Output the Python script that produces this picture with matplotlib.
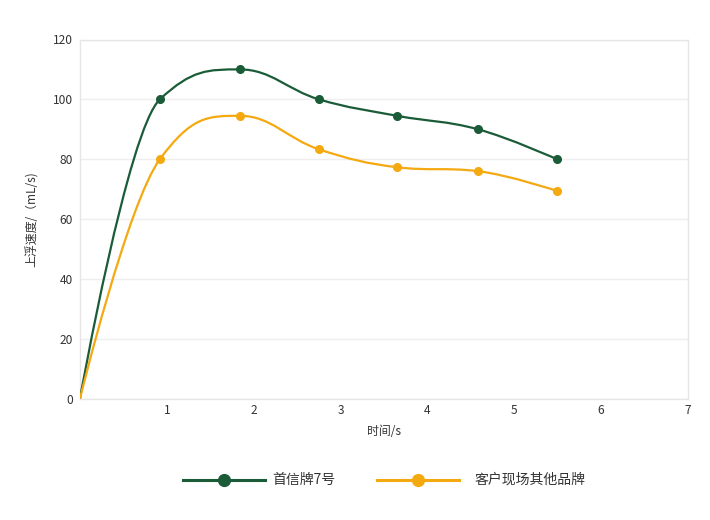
import matplotlib
matplotlib.use('Agg')
import matplotlib.pyplot as plt
from matplotlib.path import Path
from matplotlib.patches import PathPatch
from matplotlib.lines import Line2D
import numpy as np

plt.rcParams['font.family'] = ['Noto Sans CJK SC', 'DejaVu Sans']

# data
time_s = [0, 0.92, 1.84, 2.75, 3.65, 4.58, 5.49]
brand7 = [0, 100, 110, 100, 94.5, 90, 80]
others = [0, 80, 94.5, 83.3, 77.3, 76, 69.4]
series_names = ['首信牌7号', '客户现场其他品牌']
colors = ['#1b5c38', '#f5a911']

x_ticks = [1, 2, 3, 4, 5, 6, 7]
y_ticks = [0, 20, 40, 60, 80, 100, 120]


def spline_path(ax, xs, ys, smoothing=1.5):
    # spline with control points like a typical web chart lib, in pixel space
    tr = ax.transData
    pts = tr.transform(np.column_stack([xs, ys]))
    n = len(pts)
    denom = smoothing + 1
    left = [p.copy() for p in pts]
    right = [p.copy() for p in pts]
    for i in range(1, n - 1):
        lx, ly = pts[i - 1]
        x, y = pts[i]
        nx, ny = pts[i + 1]
        lcx, lcy = (smoothing * x + lx) / denom, (smoothing * y + ly) / denom
        rcx, rcy = (smoothing * x + nx) / denom, (smoothing * y + ny) / denom
        corr = (rcy - lcy) * (rcx - x) / (rcx - lcx) + y - rcy
        lcy += corr
        rcy += corr
        if lcy > ly and lcy > y:
            lcy = max(ly, y)
            rcy = 2 * y - lcy
        elif lcy < ly and lcy < y:
            lcy = min(ly, y)
            rcy = 2 * y - lcy
        if rcy > ny and rcy > y:
            rcy = max(ny, y)
            lcy = 2 * y - rcy
        elif rcy < ny and rcy < y:
            rcy = min(ny, y)
            lcy = 2 * y - rcy
        left[i] = np.array([lcx, lcy])
        right[i] = np.array([rcx, rcy])
    verts = [pts[0]]
    codes = [Path.MOVETO]
    for i in range(1, n):
        verts += [right[i - 1], left[i], pts[i]]
        codes += [Path.CURVE4] * 3
    return Path(tr.inverted().transform(np.array(verts)), codes)


fig = plt.figure(figsize=(7.1, 5.2), dpi=100)
ax = fig.add_axes([80 / 710, 1 - 398.5 / 520, 608 / 710, 359 / 520])
ax.set_xlim(0, 7)
ax.set_ylim(0, 120)
ax.set_xticks(x_ticks)
ax.set_yticks(y_ticks)
ax.tick_params(length=0, labelsize=8.6, labelcolor='#333333')
ax.tick_params(axis='y', pad=5)
ax.tick_params(axis='x', pad=4)
ax.grid(axis='y', color='#eeeeee', linewidth=1)
ax.set_axisbelow(True)
for s in ax.spines.values():
    s.set_color('#e6e6e6')
    s.set_linewidth(1)

fig.canvas.draw()
for ys, c in zip([brand7, others], colors):
    path = spline_path(ax, time_s, ys)
    ax.add_patch(PathPatch(path, facecolor='none', edgecolor=c, lw=1.6, zorder=3))
    ax.plot(time_s[1:], ys[1:], 'o', color=c, markersize=5.5, zorder=4, clip_on=False)

ax.set_xlabel('时间/s', fontsize=8.6, color='#333333', labelpad=6)
ax.set_ylabel('上浮速度/（mL/s)', fontsize=8.6, color='#333333', labelpad=10)

# legend drawn by hand to match spacing
legend_items = [(183, 265, 272), (377, 459, 474)]
ly = 1 - 480 / 520
for (x0, x1, xt), c, name in zip(legend_items, colors, series_names):
    fig.add_artist(Line2D([x0 / 710, x1 / 710], [ly, ly], color=c, lw=2.2,
                          transform=fig.transFigure))
    fig.add_artist(Line2D([(x0 + x1) / 2 / 710], [ly], color=c, marker='o', markersize=8.5,
                          transform=fig.transFigure))
    fig.text(xt / 710, ly, name, fontsize=10, color='#333333', va='center', ha='left')

fig.savefig('out.png', dpi=100)
